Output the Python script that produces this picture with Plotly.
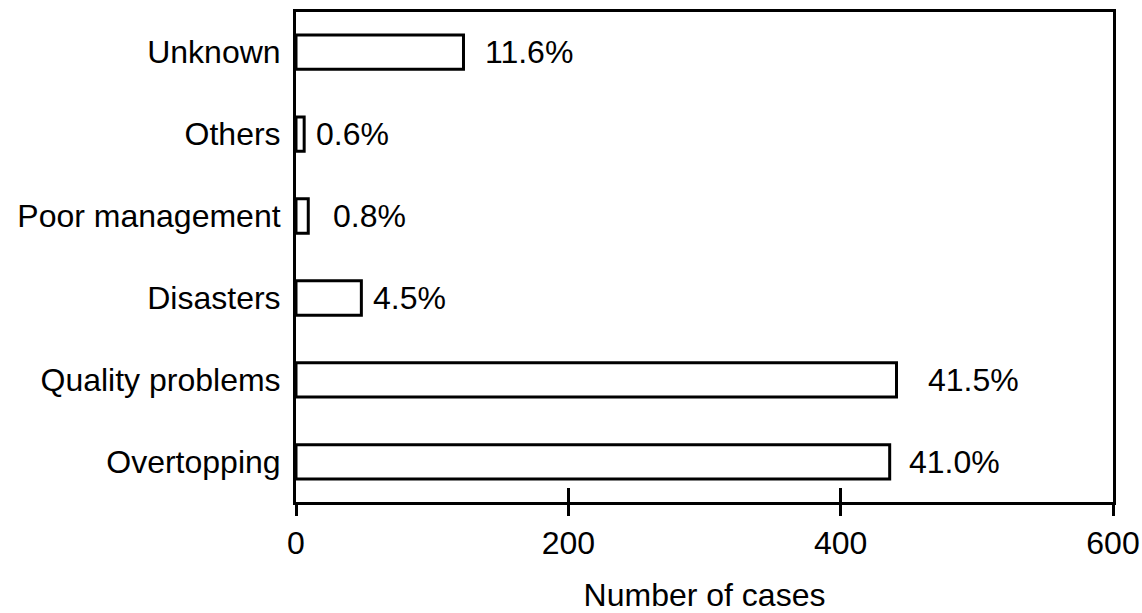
import plotly.graph_objects as go

# Data (bottom to top)
categories = ["Overtopping", "Quality problems", "Disasters", "Poor management", "Others", "Unknown"]
cases = [436, 441, 48, 9, 6, 123]
x_ticks = [0, 200, 400, 600]

total = sum(cases)
pct_labels = [f"{v / total * 100:.1f}%" for v in cases]

# styling: horizontal gap (px) between bar end and its percent label
label_gaps = [17, 29, 10, 23, 10, 20]

FONT = "Liberation Sans, Arial, sans-serif"
FS = 32

fig = go.Figure()
fig.add_trace(go.Bar(
    y=categories, x=cases, orientation="h",
    marker=dict(color="white", line=dict(color="black", width=3)),
    width=0.42, showlegend=False, hoverinfo="skip",
))
# invisible traces on overlay x-axes so extra tick marks render
fig.add_trace(go.Scatter(x=[0], y=[categories[0]], xaxis="x2", mode="markers",
                         marker=dict(opacity=0), showlegend=False, hoverinfo="skip"))
fig.add_trace(go.Scatter(x=[0], y=[categories[0]], xaxis="x3", mode="markers",
                         marker=dict(opacity=0), showlegend=False, hoverinfo="skip"))

for c, v, t, g in zip(categories, cases, pct_labels, label_gaps):
    fig.add_annotation(x=v, y=c, text=t, showarrow=False, xanchor="left",
                       xshift=g, yanchor="middle",
                       font=dict(family=FONT, size=FS, color="black"))

fig.update_layout(
    width=1142, height=613,
    margin=dict(l=296, r=29, t=12, b=111),
    paper_bgcolor="white", plot_bgcolor="white",
    font=dict(family=FONT, size=FS, color="black"),
    xaxis=dict(range=[0, 600], tickvals=x_ticks, ticks="outside", ticklen=11,
               tickwidth=3, tickcolor="black", showline=True, linecolor="black",
               linewidth=3, mirror=True, showgrid=False, zeroline=False,
               tickfont=dict(size=FS),
               title=dict(text="Number of cases", standoff=27, font=dict(size=FS)),
               ticklabelstandoff=0, automargin=False),
    xaxis2=dict(range=[0, 600], overlaying="x", side="bottom", tickvals=x_ticks,
                ticks="inside", ticklen=14, tickwidth=3, tickcolor="black",
                showticklabels=False, showgrid=False, zeroline=False, showline=False,
                automargin=False),
    xaxis3=dict(range=[0, 600], overlaying="x", side="bottom", tickvals=x_ticks,
                ticks="outside", ticklen=13, tickwidth=3, tickcolor="black",
                showticklabels=False, showgrid=False, zeroline=False, showline=False,
                automargin=False),
    yaxis=dict(categoryorder="array", categoryarray=categories,
               range=[-0.49, 5.49], showline=True, linecolor="black", linewidth=3,
               mirror=True, showgrid=False, zeroline=False, ticks="",
               tickfont=dict(size=FS),
               ticklabelstandoff=6, automargin=False),
)

fig.write_html("out.html", config={"displayModeBar": False},
               post_script="document.body.style.margin='0';")
